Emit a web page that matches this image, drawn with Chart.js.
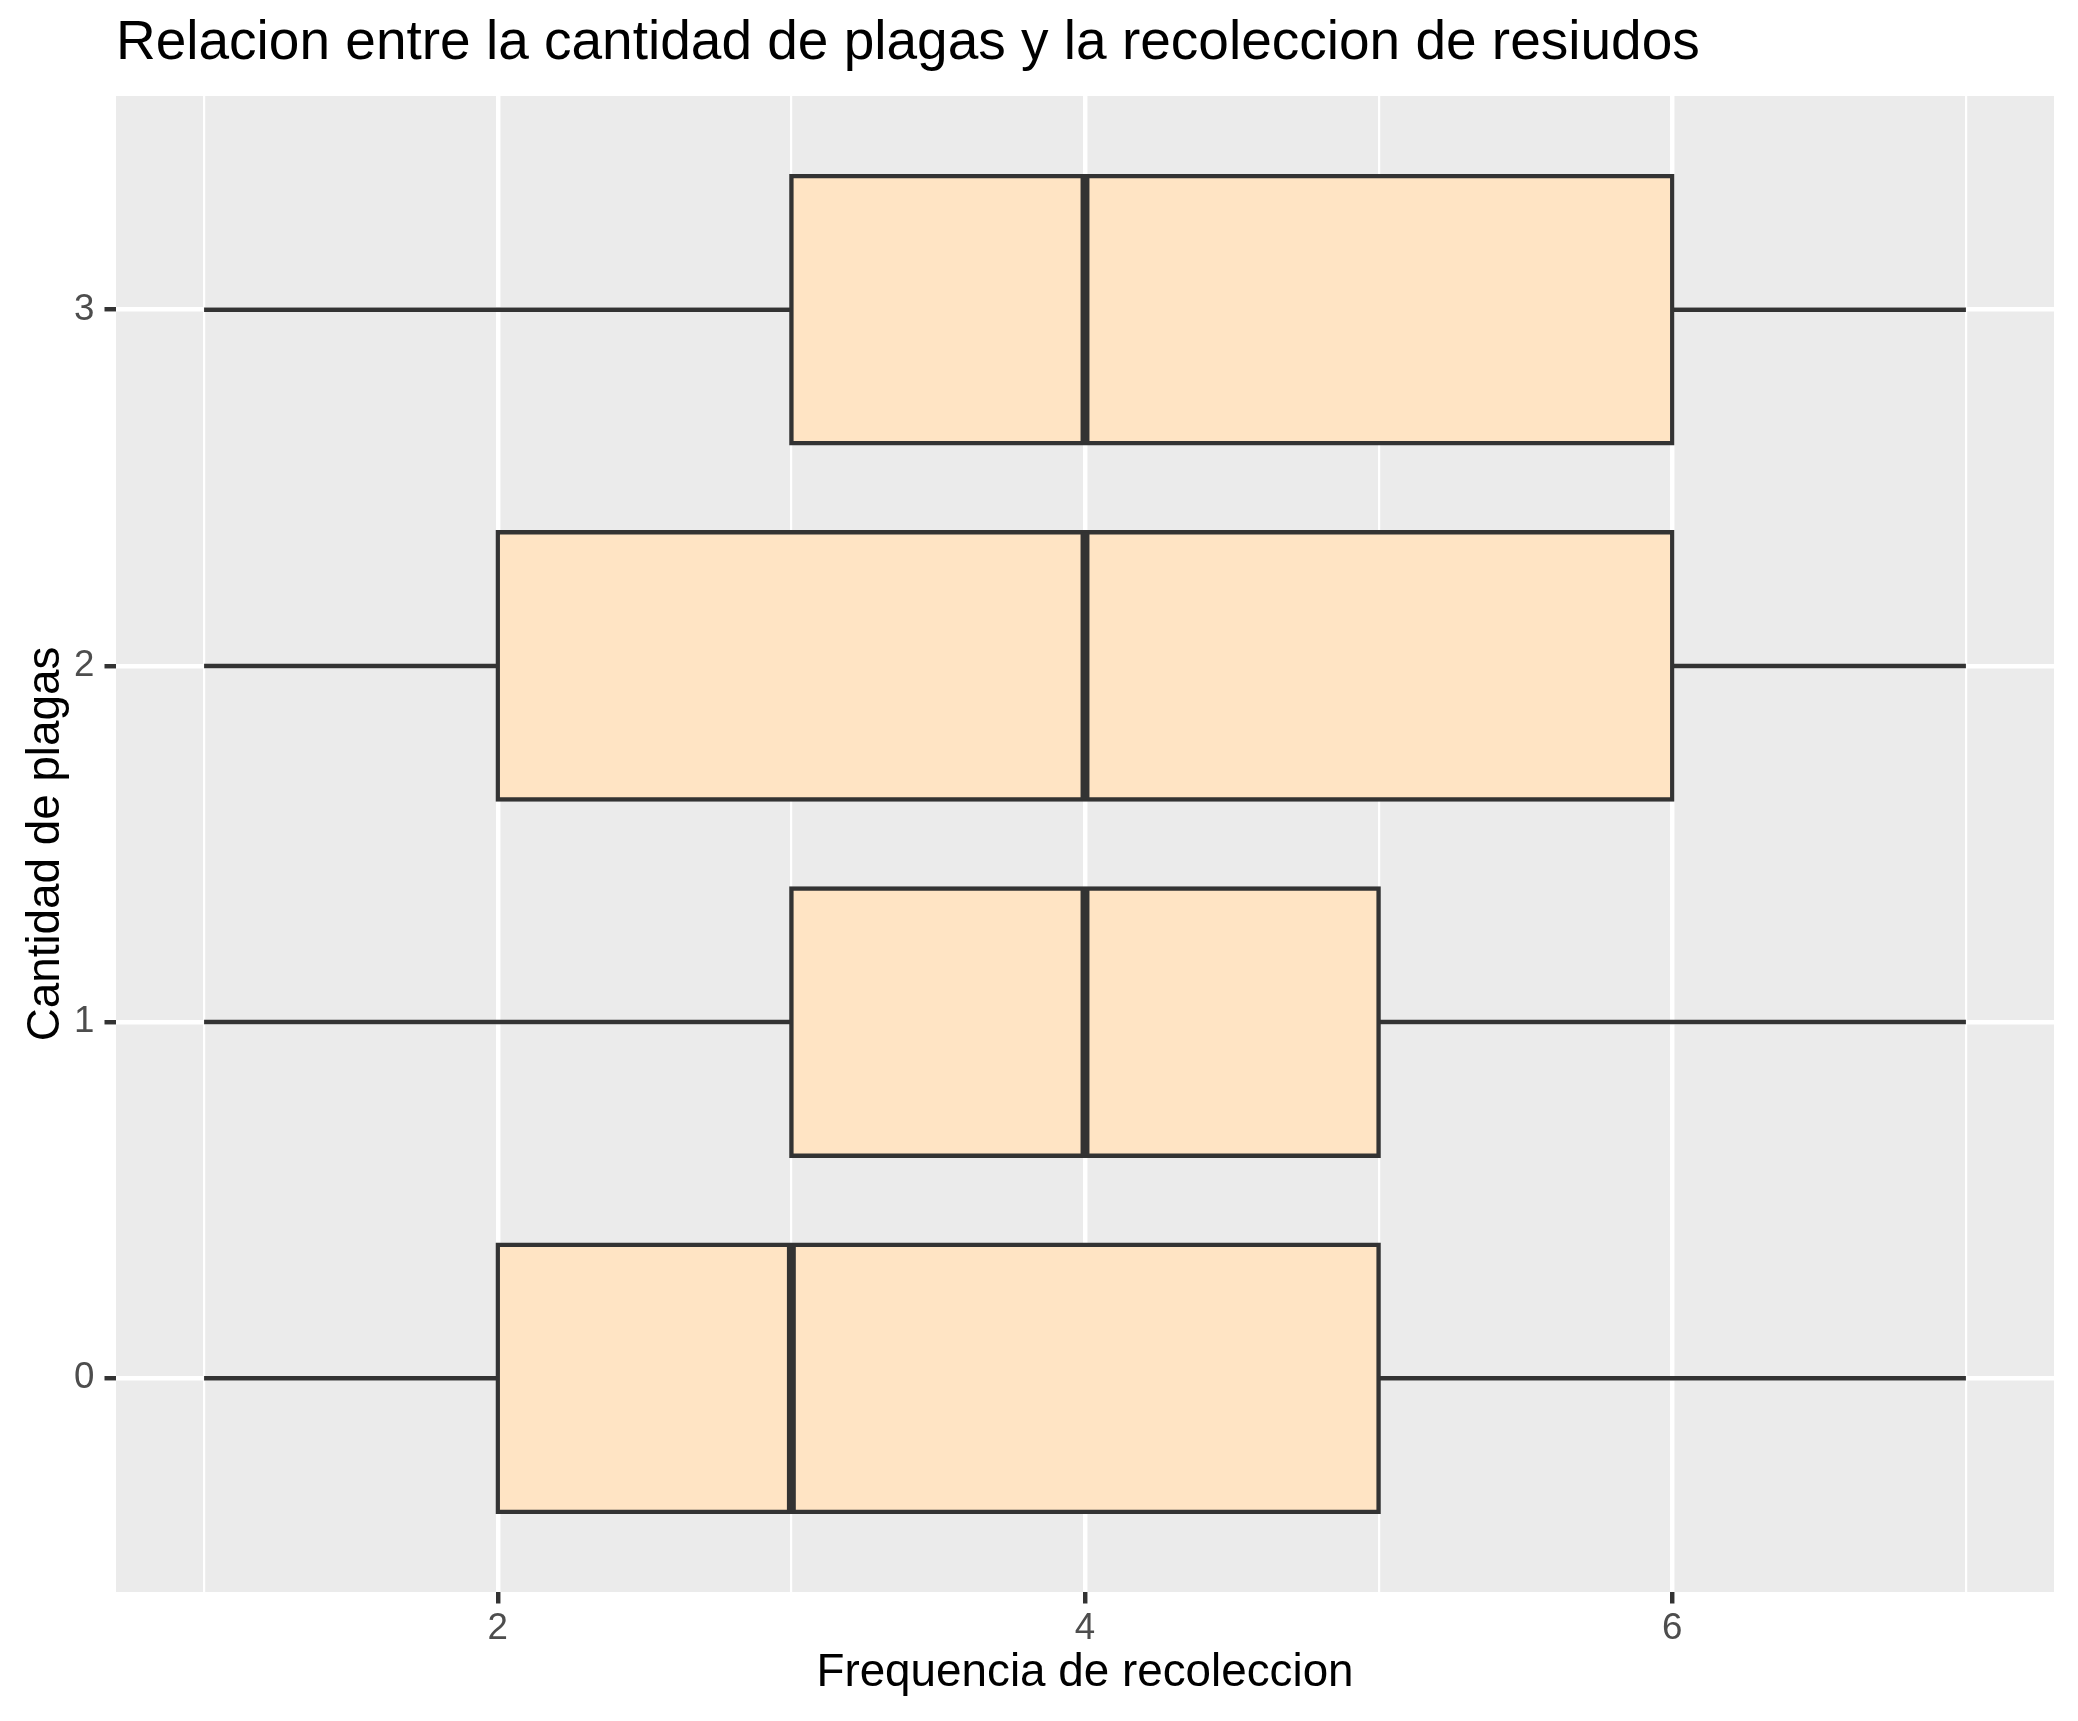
<!DOCTYPE html>
<html>
<head>
<meta charset="utf-8">
<script src="https://cdn.jsdelivr.net/npm/chart.js@4/dist/chart.umd.min.js"></script>
<style>
  html, body { margin: 0; padding: 0; background: #ffffff; }
  #wrap { width: 2078px; height: 1721px; }
</style>
</head>
<body>
<div id="wrap"><canvas id="c" width="2078" height="1721" style="width:2078px;height:1721px"></canvas></div>
<script>
// ---- data ----
const categories   = [0, 1, 2, 3];          // Cantidad de plagas
const whiskerLow   = [1, 1, 1, 1];
const quartile1    = [2, 3, 2, 3];
const medians      = [3, 4, 4, 4];
const quartile3    = [5, 5, 6, 6];
const whiskerHigh  = [7, 7, 7, 7];
const xTickValues  = [1, 2, 3, 4, 5, 6, 7];  // grid positions
const xTickLabels  = [2, 4, 6];              // labelled (major) ticks
const yTickValues  = [0, 1, 2, 3];

const titleText  = 'Relacion entre la cantidad de plagas y la recoleccion de resiudos';
const xTitleText = 'Frequencia de recoleccion';
const yTitleText = 'Cantidad de plagas';

// ---- styling ----
const FONT = '"Liberation Sans", Arial, Helvetica, sans-serif';
const OUTLINE = '#333333';
const FILL = '#FFE4C4';
const LW = 4.45;           // ggplot 0.5 linewidth at 300 dpi
const BOX_HALF = 0.375;    // half of box width (0.75)

const datasets = [];
datasets.push({
  type: 'bar',
  label: 'box',
  data: categories.map((c, i) => ({ x: [quartile1[i], quartile3[i]], y: c })),
  backgroundColor: FILL,
  borderColor: OUTLINE,
  borderWidth: LW,
  borderSkipped: false,
  inflateAmount: LW / 2,
  categoryPercentage: 0.75,
  barPercentage: 1.0,
  order: 2
});
categories.forEach((c, i) => {
  [[whiskerLow[i], quartile1[i]], [quartile3[i], whiskerHigh[i]]].forEach(([a, b]) => {
    datasets.push({
      type: 'line',
      data: [{ x: a, y: c }, { x: b, y: c }],
      borderColor: OUTLINE,
      borderWidth: LW,
      borderCapStyle: 'butt',
      pointRadius: 0,
      fill: false,
      order: 3
    });
  });
  datasets.push({
    type: 'line',
    data: [{ x: medians[i], y: c - BOX_HALF }, { x: medians[i], y: c + BOX_HALF }],
    borderColor: OUTLINE,
    borderWidth: LW * 2,
    borderCapStyle: 'butt',
    pointRadius: 0,
    fill: false,
    order: 0
  });
});

const panelBg = {
  id: 'panelBg',
  beforeDraw(chart) {
    const { ctx, chartArea: a } = chart;
    ctx.save();
    ctx.fillStyle = '#EBEBEB';
    ctx.fillRect(a.left, a.top, a.right - a.left, a.bottom - a.top);
    ctx.restore();
  }
};

new Chart(document.getElementById('c'), {
  type: 'bar',
  data: { datasets },
  plugins: [panelBg],
  options: {
    responsive: false,
    devicePixelRatio: 1,
    animation: false,
    events: [],
    indexAxis: 'y',
    layout: { padding: { left: 0, right: 24, top: 0, bottom: 0 } },
    plugins: {
      legend: { display: false },
      tooltip: { enabled: false },
      title: {
        display: true,
        text: titleText,
        align: 'start',
        fullSize: false,
        color: '#000000',
        font: { family: FONT, size: 55, weight: 'normal', lineHeight: 1.2 },
        padding: { top: 11, bottom: 19 }
      }
    },
    scales: {
      x: {
        type: 'linear',
        position: 'bottom',
        min: 0.7,
        max: 7.3,
        offset: false,
        afterBuildTicks: s => { s.ticks = xTickValues.map(v => ({ value: v })); },
        afterFit: s => { s.height = 129; },
        ticks: {
          autoSkip: false,
          maxRotation: 0,
          padding: 3,
          color: '#4D4D4D',
          font: { family: FONT, size: 36.7 },
          callback: v => (xTickLabels.includes(v) ? String(v) : '')
        },
        grid: {
          offset: false,
          color: '#FFFFFF',
          lineWidth: ctx => (xTickLabels.includes(ctx.tick && ctx.tick.value) ? LW : LW / 2),
          tickColor: ctx => (xTickLabels.includes(ctx.tick && ctx.tick.value) ? OUTLINE : 'rgba(0,0,0,0)'),
          tickWidth: LW,
          tickLength: 11.5,
          drawTicks: true
        },
        border: { display: false },
        title: {
          display: true,
          text: xTitleText,
          color: '#000000',
          font: { family: FONT, size: 45.8, lineHeight: 1.2 },
          padding: { top: 0, bottom: 20.5 }
        }
      },
      y: {
        type: 'linear',
        position: 'left',
        min: -0.6,
        max: 3.6,
        offset: false,
        afterBuildTicks: s => { s.ticks = yTickValues.map(v => ({ value: v })); },
        afterFit: s => { s.width = 116; },
        ticks: {
          autoSkip: false,
          padding: 10,
          color: '#4D4D4D',
          font: { family: FONT, size: 36.7 },
          callback: v => String(v)
        },
        grid: {
          offset: false,
          color: '#FFFFFF',
          lineWidth: LW,
          tickColor: OUTLINE,
          tickWidth: LW,
          tickLength: 11.5,
          drawTicks: true
        },
        border: { display: false },
        title: {
          display: true,
          text: yTitleText,
          color: '#000000',
          font: { family: FONT, size: 45.8, lineHeight: 1.2 },
          padding: { top: 18.5, bottom: 0 }
        }
      }
    }
  }
});
</script>
</body>
</html>
